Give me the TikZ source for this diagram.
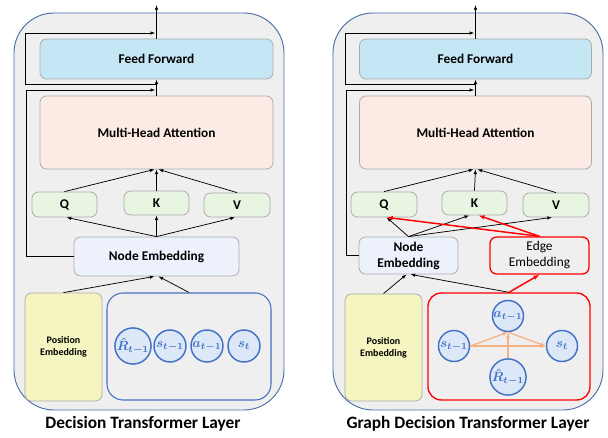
\documentclass[tikz,border=0pt]{standalone}
\usepackage{amsmath}
\usepackage{fontspec}
\setmainfont{Carlito}
\usetikzlibrary{arrows.meta}
\definecolor{outerfill}{HTML}{EFEFEF}
\definecolor{outerdraw}{HTML}{4A6BA8}
\definecolor{fffill}{HTML}{C5E6F5}
\definecolor{mhafill}{HTML}{FCEBE5}
\definecolor{qkvfill}{HTML}{E8F5E2}
\definecolor{nefill}{HTML}{EDF1FC}
\definecolor{pefill}{HTML}{F5F5C2}
\definecolor{boxgray}{HTML}{ABABAB}
\definecolor{cblue}{HTML}{4472C4}
\definecolor{cfill}{HTML}{DCE8F8}
\definecolor{orng}{HTML}{F4B183}
\definecolor{myred}{HTML}{FF0000}
\tikzset{
  outerbox/.style={draw=outerdraw, line width=0.7pt, fill=outerfill, rounded corners=30pt, inner sep=0pt},
  graybox/.style={draw=boxgray, line width=0.6pt, rounded corners=5pt, inner sep=1pt, align=center, font=\fontsize{10}{12}\selectfont\bfseries},
  tokbox/.style={draw=cblue, line width=0.8pt, fill=outerfill, rounded corners=12pt, inner sep=0pt},
  redbox/.style={draw=myred, line width=1pt, fill=outerfill, rounded corners=10pt, inner sep=0pt},
  tok/.style={circle, draw=cblue, fill=cfill, line width=1.1pt, inner sep=0pt, text=cblue, font=\fontsize{10}{11}\selectfont\boldmath},
  arr/.style={-{Latex[length=3.5pt,width=2.6pt]}, line width=0.55pt, black},
  rarr/.style={-{Latex[length=4.5pt,width=3.4pt]}, line width=1.1pt, myred},
  oarr/.style={-{Latex[length=4pt,width=3pt]}, line width=0.9pt, orng},
  ttl/.style={font=\fontsize{13}{15}\selectfont\bfseries}
}
\begin{document}
\begin{tikzpicture}[x=0.75pt,y=-0.75pt]
\useasboundingbox (0,0) rectangle (608,438);
% ================= LEFT PANEL =================
\node[outerbox, minimum width=270*0.75pt, minimum height=397*0.75pt] (LO) at (149,211.5) {};
\node[graybox, fill=fffill, minimum width=233*0.75pt, minimum height=40*0.75pt] (LFF) at (156.5,59) {Feed Forward};
\node[graybox, fill=mhafill, minimum width=233*0.75pt, minimum height=73*0.75pt] (LMHA) at (156.5,132.5) {Multi-Head Attention};
\node[graybox, fill=qkvfill, minimum width=65*0.75pt, minimum height=25*0.75pt] (LQ) at (64.5,204.5) {Q};
\node[graybox, fill=qkvfill, minimum width=65*0.75pt, minimum height=24*0.75pt] (LK) at (156.5,203) {K};
\node[graybox, fill=qkvfill, minimum width=66*0.75pt, minimum height=24*0.75pt] (LV) at (237,205) {V};
\node[graybox, fill=nefill, minimum width=165*0.75pt, minimum height=39*0.75pt] (LNE) at (156.5,256.5) {Node Embedding};
\node[graybox, fill=pefill, minimum width=77*0.75pt, minimum height=108*0.75pt, font=\fontsize{7.5}{9}\selectfont\bfseries] (LPE) at (63.5,347) {Position\\Embedding};
\node[tokbox, minimum width=164*0.75pt, minimum height=107*0.75pt] (LTB) at (189,346.5) {};
\node[tok, minimum size=32*0.75pt] (L1) at (133,346) {$\hat{R}_{t-1}$};
\node[tok, minimum size=32*0.75pt] (L2) at (170,346) {$s_{t-1}$};
\node[tok, minimum size=32*0.75pt] (L3) at (207,346) {$a_{t-1}$};
\node[tok, minimum size=32*0.75pt] (L4) at (244,346) {$s_{t}$};
\node[ttl] (LT) at (143,424) {Decision Transformer Layer};
% connectors
\coordinate (LOut) at (156.5,5);
\coordinate (LAdd2) at (156.5,33);
\coordinate (LTap) at (156.5,84);
\coordinate (LAdd1) at (156.5,90);
\draw[arr] (LFF.north) -- (LOut);
\draw[arr] (LMHA.north) -- (LFF.south);
\draw[arr] (LTap) -- (25,84) -- (25,33) -- ([xshift=-1]LAdd2);
\draw[arr] (LNE.west) -- (26.5,256.5) -- (26.5,90) -- ([xshift=-1]LAdd1);
\draw[arr] (LQ.north) -- ([xshift=-1.5]LMHA.south);
\draw[arr] (LK.north) -- (LMHA.south);
\draw[arr] (LV.north) -- ([xshift=1.5]LMHA.south);
\draw[arr] (LNE.north) -- ([xshift=1.5]LQ.south);
\draw[arr] (LNE.north) -- (LK.south);
\draw[arr] (LNE.north) -- ([xshift=-1.5]LV.south);
\draw[arr] (LPE.north) -- ([xshift=-1.5]LNE.south);
\draw[arr] (LTB.north) -- ([xshift=1.5]LNE.south);
% ================= RIGHT PANEL =================
\node[outerbox, minimum width=270*0.75pt, minimum height=397*0.75pt] (RO) at (468,211.5) {};
\node[graybox, fill=fffill, minimum width=232*0.75pt, minimum height=40*0.75pt] (RFF) at (475.5,59) {Feed Forward};
\node[graybox, fill=mhafill, minimum width=232*0.75pt, minimum height=73*0.75pt] (RMHA) at (475.5,132.5) {Multi-Head Attention};
\node[graybox, fill=qkvfill, minimum width=66*0.75pt, minimum height=25*0.75pt] (RQ) at (384,204.5) {Q};
\node[graybox, fill=qkvfill, minimum width=65*0.75pt, minimum height=24*0.75pt] (RK) at (474.5,203) {K};
\node[graybox, fill=qkvfill, minimum width=66*0.75pt, minimum height=24*0.75pt] (RV) at (556,205) {V};
\node[graybox, fill=nefill, minimum width=99*0.75pt, minimum height=37*0.75pt] (RNE) at (408.5,255.5) {Node\\Embedding};
\node[graybox, draw=myred, line width=1pt, fill=outerfill, font=\fontsize{10}{12}\selectfont, minimum width=99*0.75pt, minimum height=37*0.75pt] (REE) at (539.5,255.5) {Edge\\Embedding};
\node[graybox, fill=pefill, minimum width=77*0.75pt, minimum height=107*0.75pt, font=\fontsize{7.5}{9}\selectfont\bfseries] (RPE) at (383.5,347.5) {Position\\Embedding};
\node[redbox, minimum width=162*0.75pt, minimum height=107*0.75pt] (RGB) at (509,346.5) {};
\node[tok, minimum size=31*0.75pt] (Ra) at (508,316) {$a_{t-1}$};
\node[tok, minimum size=31*0.75pt] (Rs1) at (454,346) {$s_{t-1}$};
\node[tok, minimum size=31*0.75pt] (Rst) at (562,346) {$s_{t}$};
\node[tok, minimum size=31*0.75pt] (RR) at (508,377) {$\hat{R}_{t-1}$};
\draw[oarr] (Rs1.east) -- (Ra.south);
\draw[oarr] (Ra.south) -- (Rst.west);
\draw[oarr] (Rs1.east) -- (Rst.west);
\draw[oarr] (RR.north) -- (Ra.south);
\node[ttl] (RT) at (468,424) {Graph Decision Transformer Layer};
% connectors
\coordinate (ROut) at (475.5,5);
\coordinate (RAdd2) at (475.5,33);
\coordinate (RTap) at (475.5,84);
\coordinate (RAdd1) at (475.5,90);
\draw[arr] (RFF.north) -- (ROut);
\draw[arr] (RMHA.north) -- (RFF.south);
\draw[arr] (RTap) -- (345,84) -- (345,33) -- ([xshift=-1]RAdd2);
\draw[arr] (RNE.west) -- (346.5,255.5) -- (346.5,90) -- ([xshift=-1]RAdd1);
\draw[arr] (RQ.north) -- ([xshift=-1.5]RMHA.south);
\draw[arr] (RK.north) -- (RMHA.south);
\draw[arr] (RV.north) -- ([xshift=1.5]RMHA.south);
\draw[arr] (RNE.north) -- ([xshift=2]RQ.south);
\draw[arr] (RNE.north) -- ([xshift=-4]RK.south);
\draw[arr] (RNE.north) -- ([xshift=-3]RV.south);
\draw[rarr] (REE.north) -- ([xshift=2]RQ.south);
\draw[rarr] (REE.north) -- ([xshift=3]RK.south);
\draw[arr] (RPE.north) -- ([xshift=-1.5]RNE.south);
\draw[arr] (RGB.north) -- ([xshift=1.5]RNE.south);
\draw[rarr] (RGB.north) -- (REE.south);
\end{tikzpicture}
\end{document}
